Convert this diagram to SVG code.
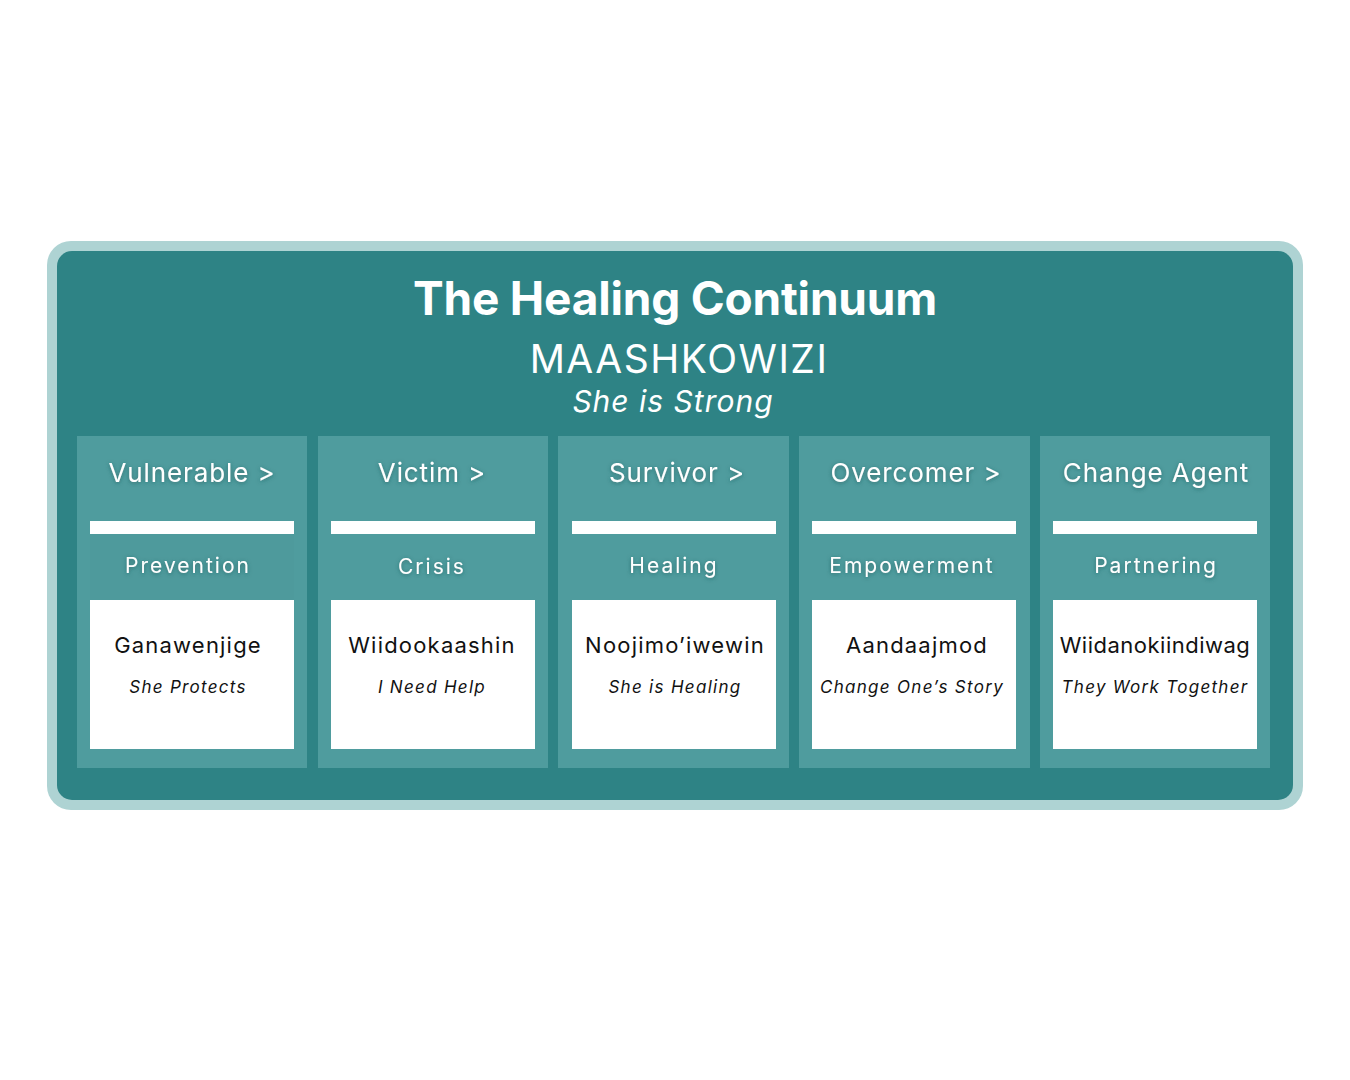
<svg xmlns="http://www.w3.org/2000/svg" width="1350" height="1080" viewBox="0 0 1350 1080">
<defs>
<filter id="glow" x="-20%" y="-50%" width="140%" height="200%">
<feDropShadow dx="0" dy="1" stdDeviation="2" flood-color="#1d4f50" flood-opacity="0.6"/>
</filter>
</defs>
<style>
.col{fill:#4f9c9e}
.wht{fill:#ffffff}
.hd{font-family:Inter,"Open Sans",sans-serif;font-size:26px;fill:#ffffff;text-anchor:middle;letter-spacing:0.9px}
.sec{font-family:Inter,"Open Sans",sans-serif;font-size:21px;fill:#ffffff;text-anchor:middle;letter-spacing:2px}
.nm{font-family:Inter,"Open Sans",sans-serif;font-size:22px;fill:#111111;text-anchor:middle;letter-spacing:1.2px}
.tr{font-family:Inter,"Open Sans",sans-serif;font-size:17px;font-style:italic;fill:#111111;text-anchor:middle;letter-spacing:1.3px}
</style>
<rect width="1350" height="1080" fill="#ffffff"/>
<g id="frame">
<rect x="47" y="241" width="1256" height="569" rx="24" fill="#aed3d3"/>
<rect x="57" y="251" width="1236" height="549" rx="15" fill="#2e8385"/>
</g>
<g id="title">
<text x="675" y="315" font-family="Inter,'Open Sans',sans-serif" font-size="46" font-weight="bold" fill="#ffffff" text-anchor="middle" letter-spacing="-0.2">The Healing Continuum</text>
<text x="679" y="373" font-family="Inter,'Open Sans',sans-serif" font-size="39" fill="#ffffff" text-anchor="middle" letter-spacing="1.5">MAASHKOWIZI</text>
<text x="673" y="412" font-family="Inter,'Open Sans',sans-serif" font-size="30" font-style="italic" fill="#ffffff" text-anchor="middle" letter-spacing="1">She is Strong</text>
</g>
<g id="col1">
<rect class="col" x="77" y="436" width="230" height="332"/>
<rect class="wht" x="90" y="521" width="204" height="13"/>
<rect x="90" y="534" width="204" height="66" fill="#4e9a9c"/>
<rect class="wht" x="90" y="600" width="204" height="149"/>
<text class="hd" x="192" y="482" filter="url(#glow)">Vulnerable &gt;</text>
<text class="sec" x="188" y="573" filter="url(#glow)">Prevention</text>
<text class="nm" x="188" y="653">Ganawenjige</text>
<text class="tr" x="188" y="693">She Protects</text>
</g>
<g id="col2">
<rect class="col" x="318" y="436" width="230" height="332"/>
<rect class="wht" x="331" y="521" width="204" height="13"/>
<rect class="wht" x="331" y="600" width="204" height="149"/>
<text class="hd" x="432" y="482" filter="url(#glow)">Victim &gt;</text>
<text class="sec" x="432" y="574" filter="url(#glow)">Crisis</text>
<text class="nm" x="432" y="653">Wiidookaashin</text>
<text class="tr" x="432" y="693">I Need Help</text>
</g>
<g id="col3">
<rect class="col" x="558" y="436" width="231" height="332"/>
<rect class="wht" x="572" y="521" width="204" height="13"/>
<rect class="wht" x="572" y="600" width="204" height="149"/>
<text class="hd" x="677" y="482" filter="url(#glow)">Survivor &gt;</text>
<text class="sec" x="674" y="573" filter="url(#glow)">Healing</text>
<text class="nm" x="675" y="653">Noojimo’iwewin</text>
<text class="tr" x="675" y="693">She is Healing</text>
</g>
<g id="col4">
<rect class="col" x="799" y="436" width="231" height="332"/>
<rect class="wht" x="812" y="521" width="204" height="13"/>
<rect class="wht" x="812" y="600" width="204" height="149"/>
<text class="hd" x="916" y="482" filter="url(#glow)">Overcomer &gt;</text>
<text class="sec" x="912" y="573" filter="url(#glow)">Empowerment</text>
<text class="nm" x="917" y="653">Aandaajmod</text>
<text class="tr" x="912" y="693">Change One’s Story</text>
</g>
<g id="col5">
<rect class="col" x="1040" y="436" width="230" height="332"/>
<rect class="wht" x="1053" y="521" width="204" height="13"/>
<rect class="wht" x="1053" y="600" width="204" height="149"/>
<text class="hd" x="1156" y="482" filter="url(#glow)">Change Agent</text>
<text class="sec" x="1156" y="573" filter="url(#glow)">Partnering</text>
<text class="nm" x="1155" y="653" style="letter-spacing:0.5px">Wiidanokiindiwag</text>
<text class="tr" x="1155" y="693">They Work Together</text>
</g>
</svg>
